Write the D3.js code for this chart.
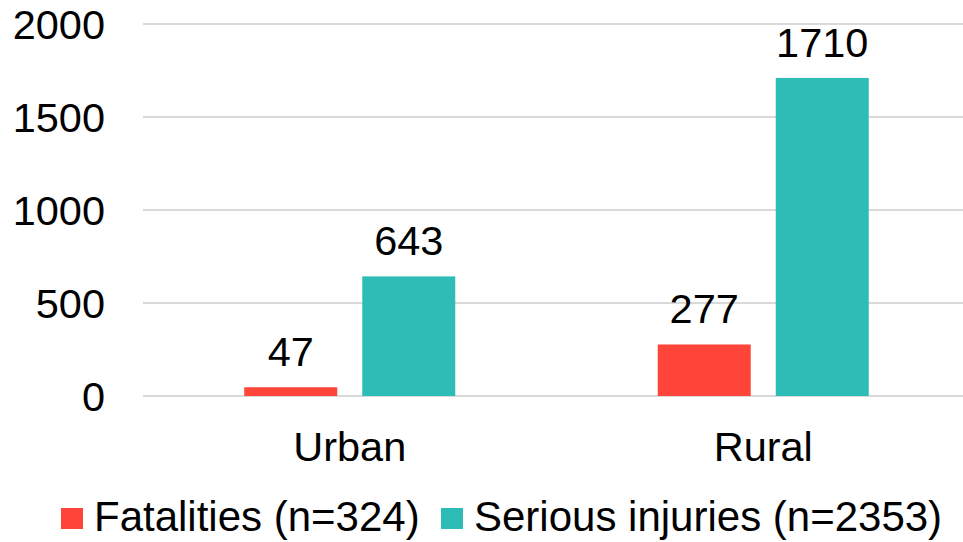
<!DOCTYPE html>
<html lang="en">
<head>
    <meta charset="UTF-8">
    <title>Fatalities and serious injuries, urban vs rural</title>
    <script src="https://d3js.org/d3.v7.min.js"></script>
    <style>
        body { margin: 0; background: #fff; }
        svg text { font-family: "Liberation Sans", Arial, sans-serif; fill: #000; }
        .grid line { stroke: #d9d9d9; stroke-width: 2px; }
    </style>
</head>
<body>
    <div id="chart"></div>

    <script>
        var categories = ["Urban", "Rural"];
        var seriesNames = ["Fatalities (n=324)", "Serious injuries (n=2353)"];
        var fatalities = [47, 277];
        var seriousInjuries = [643, 1710];
        var yTicks = [0, 500, 1000, 1500, 2000];
        var colors = ["#ff4539", "#2ebdb6"];

        var width = 963, height = 542;
        var margin = {left: 143, right: 970, top: 24, bottom: 396};

        var svg = d3.select("#chart").append("svg")
            .attr("width", width)
            .attr("height", height);

        var x = d3.scaleBand().domain(categories).range([margin.left, margin.right]);
        var xInner = d3.scaleBand().domain([0, 1])
            .range([0, 211]).paddingInner(0.212);
        var y = d3.scaleLinear().domain([0, 2000]).range([margin.bottom, margin.top]);

        // gridlines
        svg.append("g")
            .attr("class", "grid")
            .selectAll("line")
            .data(yTicks)
            .join("line")
            .attr("x1", margin.left)
            .attr("x2", width)
            .attr("y1", function(d) { return y(d); })
            .attr("y2", function(d) { return y(d); });

        // y tick labels
        svg.append("g")
            .selectAll("text")
            .data(yTicks)
            .join("text")
            .attr("x", 105)
            .attr("y", function(d) { return y(d); })
            .attr("dy", "0.35em")
            .attr("text-anchor", "end")
            .style("font-size", "41.5px")
            .text(function(d) { return d; });

        var rows = [];
        categories.forEach(function(c, i) {
            rows.push({cat: c, s: 0, v: fatalities[i]});
            rows.push({cat: c, s: 1, v: seriousInjuries[i]});
        });

        function barX(d) {
            return x(d.cat) + x.bandwidth() / 2 - 105.5 + xInner(d.s);
        }

        svg.append("g")
            .selectAll("rect")
            .data(rows)
            .join("rect")
            .attr("x", barX)
            .attr("y", function(d) { return y(d.v); })
            .attr("width", xInner.bandwidth())
            .attr("height", function(d) { return y(0) - y(d.v); })
            .attr("fill", function(d) { return colors[d.s]; });

        svg.append("g")
            .selectAll("text")
            .data(rows)
            .join("text")
            .attr("x", function(d) { return barX(d) + xInner.bandwidth() / 2; })
            .attr("y", function(d) { return y(d.v) - 21; })
            .attr("text-anchor", "middle")
            .style("font-size", "41.5px")
            .text(function(d) { return d.v; });

        // category labels
        svg.append("g")
            .selectAll("text")
            .data(categories)
            .join("text")
            .attr("x", function(d) { return x(d) + x.bandwidth() / 2; })
            .attr("y", 461)
            .attr("text-anchor", "middle")
            .style("font-size", "41.5px")
            .text(function(d) { return d; });

        // legend
        var legendX = [61, 441];
        var legend = svg.append("g")
            .selectAll("g")
            .data(seriesNames)
            .join("g")
            .attr("transform", function(d, i) { return "translate(" + legendX[i] + ",508)"; });

        legend.append("rect")
            .attr("width", 22)
            .attr("height", 21)
            .attr("fill", function(d, i) { return colors[i]; });

        legend.append("text")
            .attr("x", 33)
            .attr("y", 23)
            .style("font-size", "42px")
            .text(function(d) { return d; });
    </script>
</body>
</html>
